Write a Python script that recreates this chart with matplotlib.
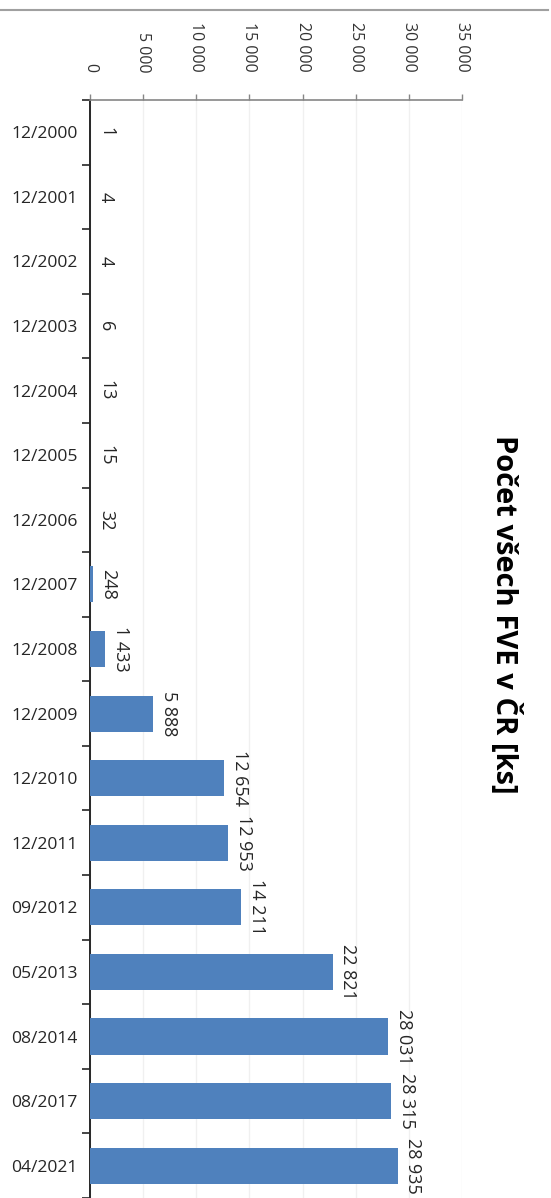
import matplotlib
matplotlib.use("Agg")
import matplotlib.pyplot as plt
from matplotlib.ticker import FixedLocator
from matplotlib.lines import Line2D

categories = ["12/2000", "12/2001", "12/2002", "12/2003", "12/2004", "12/2005",
              "12/2006", "12/2007", "12/2008", "12/2009", "12/2010", "12/2011",
              "09/2012", "05/2013", "08/2014", "08/2017", "04/2021"]
values = [1, 4, 4, 6, 13, 15, 32, 248, 1433, 5888, 12654, 12953, 14211,
          22821, 28031, 28315, 28935]
value_ticks = [0, 5000, 10000, 15000, 20000, 25000, 30000, 35000]
title = "Počet všech FVE v ČR [ks]"

FONT = ["Open Sans", "DejaVu Sans"]
plt.rcParams["font.family"] = FONT

def fmt(v):
    return f"{int(v):,}".replace(",", " ")

W, H = 551, 1198
fig = plt.figure(figsize=(W / 100, H / 100), dpi=100)
ax = fig.add_axes([90 / W, 0.0, (462 - 90) / W, 1 - 100 / H])

ypos = list(range(len(categories)))
ax.barh(ypos, values, height=0.56, color="#4F81BD", zorder=3)

ax.set_xlim(0, 35000)
ax.set_ylim(len(categories) - 0.5, -0.5)

# value axis on top
ax.xaxis.set_ticks_position("top")
ax.xaxis.set_label_position("top")
ax.set_xticks(value_ticks)
ax.set_xticklabels([fmt(v) for v in value_ticks], rotation=-90,
                   fontsize=11.5, color="#333333", va="bottom", ha="center")
ax.tick_params(axis="x", which="major", length=4, width=1, color="#868686",
               pad=16, direction="out")
ax.grid(axis="x", color="#F0F0F0", linewidth=1, zorder=0)

# category axis
ax.set_yticks(ypos)
ax.set_yticklabels(categories, fontsize=12.6, color="#262626")
ax.tick_params(axis="y", which="major", length=0, pad=9)
ax.yaxis.set_minor_locator(FixedLocator([i - 0.5 for i in range(len(categories) + 1)]))
ax.tick_params(axis="y", which="minor", length=6, width=1.2, color="#262626",
               direction="out")

for s in ["right", "bottom"]:
    ax.spines[s].set_visible(False)
ax.spines["top"].set_color("#868686")
ax.spines["top"].set_linewidth(1.2)
ax.spines["left"].set_color("#262626")
ax.spines["left"].set_linewidth(1.4)

for y, v in zip(ypos, values):
    ax.annotate(fmt(v), xy=(v, y), xytext=(5, 0), textcoords="offset points",
                rotation=-90, ha="left", va="center", fontsize=13,
                color="#262626", annotation_clip=False)

fig.text(505 / W, 1 - 614 / H, title, rotation=-90, ha="center", va="center",
         fontsize=21, fontweight="bold", color="#000000")

fig.add_artist(Line2D([0, 548 / W], [1 - 10 / H, 1 - 10 / H],
                      transform=fig.transFigure, color="#A0A0A0", linewidth=1.5))

fig.savefig("out.png", dpi=100, facecolor="white")
